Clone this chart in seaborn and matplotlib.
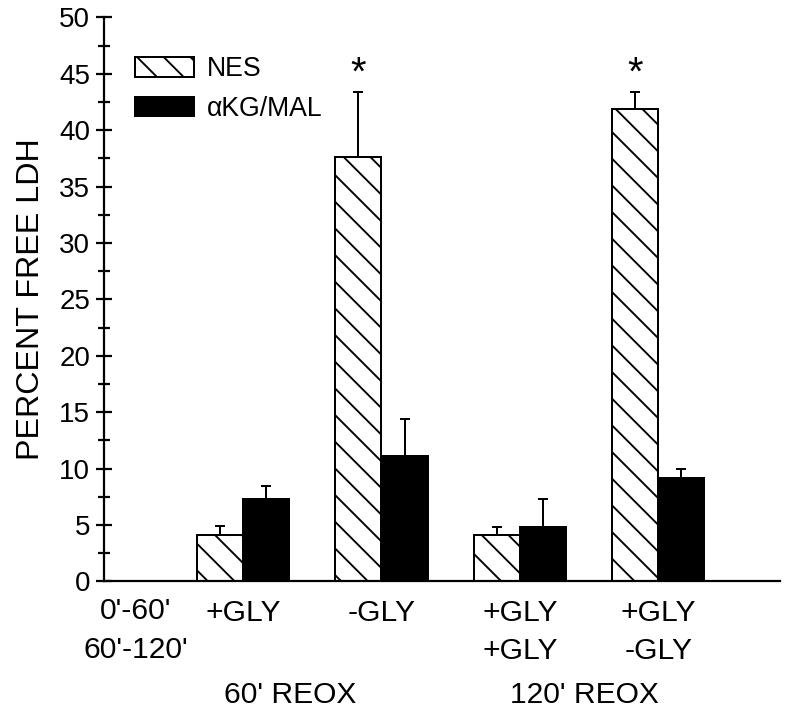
import pandas as pd
import matplotlib.pyplot as plt
import numpy as np
import seaborn as sb
from matplotlib.ticker import MultipleLocator

# conditions (60' REOX: +GLY, -GLY ; 120' REOX: +GLY/+GLY, +GLY/-GLY)
conds = ['+GLY', '-GLY', '+GLY\n+GLY', '+GLY\n-GLY']
nes = [4.1, 37.6, 4.1, 41.9]
nes_err = [0.8, 5.8, 0.7, 1.5]
akg = [7.3, 11.1, 4.8, 9.2]
akg_err = [1.2, 3.3, 2.5, 0.75]
series = ['NES', '\u03b1KG/MAL']
star_idx = [1, 3]   # significant NES bars

df = pd.DataFrame({
    'cond': conds * 2,
    'series': [series[0]] * 4 + [series[1]] * 4,
    'value': nes + akg,
    'err': nes_err + akg_err,
})

sb.set_style('ticks')
plt.rcParams['font.family'] = ['Liberation Sans', 'DejaVu Sans']
plt.rcParams['hatch.linewidth'] = 1.7
plt.rcParams['text.color'] = 'black'
plt.rcParams['axes.labelcolor'] = 'black'

fig = plt.figure(figsize=(10, 8.925), dpi=80)
ax = fig.add_axes([0.13, 0.1856, 0.845, 0.790])

sb.barplot(data=df, x='cond', y='value', hue='series', order=conds, hue_order=series,
           palette={series[0]: 'white', series[1]: 'black'}, edgecolor='black',
           linewidth=1.8, width=0.667, errorbar=None, saturation=1, ax=ax)

for p in ax.containers[0]:
    p.set_hatch('\\')

# upper error bars only
for cont, s in zip(ax.containers, series):
    sub = df[df['series'] == s]
    xs = [p.get_x() + p.get_width() / 2 for p in cont]
    hs = [p.get_height() for p in cont]
    ax.errorbar(xs, hs, yerr=[np.zeros(len(hs)), sub['err'].values], fmt='none',
                ecolor='black', elinewidth=1.8, capsize=4.5, capthick=1.8, zorder=3)

# significance stars
for i in star_idx:
    p = ax.containers[0][i]
    ax.text(p.get_x() + p.get_width() / 2, 44.0, '*', ha='center', va='baseline',
            fontsize=36, color='black')

ax.set_ylim(0, 50)
ax.set_xlim(-1.005, 3.88)
ax.yaxis.set_major_locator(MultipleLocator(5))
ax.yaxis.set_minor_locator(MultipleLocator(2.5))
ax.tick_params(axis='y', which='major', direction='inout', length=15, width=2,
               labelsize=25, pad=5, color='black', labelcolor='black')
ax.tick_params(axis='y', which='minor', direction='inout', length=10, width=2, color='black')
ax.tick_params(axis='x', length=0, labelsize=27, pad=16, labelcolor='black')
for lab in ax.get_xticklabels():
    lab.set_linespacing(1.45)
ax.set_xlabel('')
ax.set_ylabel('PERCENT FREE LDH', fontsize=29, labelpad=12)
for sp in ['top', 'right']:
    ax.spines[sp].set_visible(False)
for sp in ['left', 'bottom']:
    ax.spines[sp].set_linewidth(2)
    ax.spines[sp].set_color('black')

# row header and group labels
ax.text(-0.774, -2.6, "0'-60'", ha='center', va='center', fontsize=27, clip_on=False)
ax.text(-0.774, -6.05, "60'-120'", ha='center', va='center', fontsize=27, clip_on=False)
ax.text(0.34, -10.1, "60' REOX", ha='center', va='center', fontsize=27, clip_on=False)
ax.text(2.47, -10.1, "120' REOX", ha='center', va='center', fontsize=27, clip_on=False)

ax.legend([ax.containers[0][0], ax.containers[1][0]], series, loc='upper left',
          bbox_to_anchor=(0.03, 0.95), frameon=False, fontsize=24,
          handlelength=2.2, handleheight=0.75, handletextpad=0.5, labelspacing=0.5,
          borderaxespad=0)

fig.savefig('out.png', dpi=80)
